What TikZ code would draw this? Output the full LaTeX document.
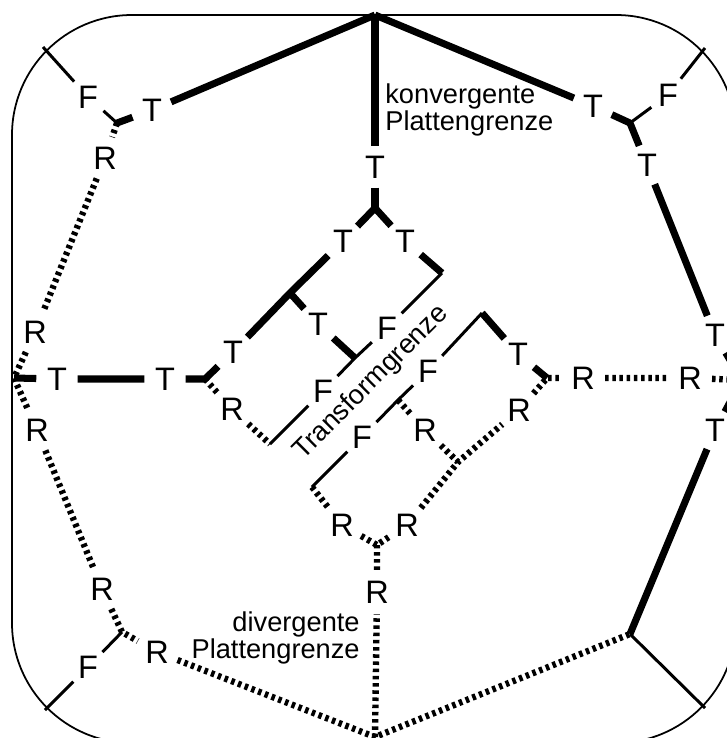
\documentclass[tikz,border=0pt]{standalone}
\usepackage{fontspec}
\setmainfont{Liberation Sans}
\begin{document}
\begin{tikzpicture}[x=0.02cm, y=-0.02cm,
   conv/.style={line width=4pt},
   trans/.style={line width=1.7pt},
   div/.style={line width=3.6pt, dash pattern=on 2pt off 2.1pt},
   txt/.style={rectangle, inner sep=0pt, font=\fontsize{15.5}{13.8}\selectfont},
   every node/.style={circle, inner sep=2.2pt, font=\fontsize{18.5}{18.5}\selectfont}]

\useasboundingbox (0,0) rectangle (727,738);
\clip (0,0) rectangle (727,738);
\draw[line width=1pt, rounded corners=2.4cm] (12,15) rectangle (736,743);

% Tripelpunkte und Knicke
\coordinate (top) at (375,15);
\coordinate (jnw) at (117,123);
\coordinate (jne) at (630,123);
\coordinate (jw) at (14,378);
\coordinate (je) at (742,380);
\coordinate (jsw) at (122,632);
\coordinate (jse) at (630,634);
\coordinate (js) at (375,737);
\coordinate (jm) at (377,545);
\coordinate (jc) at (375,208);
\coordinate (jl) at (205,379);
\coordinate (jr) at (547,378);
\coordinate (kb) at (290,293);
\coordinate (kt) at (355,358);
\coordinate (ka) at (442,273);
\coordinate (kc) at (270,444);
\coordinate (kd) at (482,313);
\coordinate (ke) at (398,400);
\coordinate (kf) at (312,487);
\coordinate (kg) at (458,462);
\coordinate (bnw) at (43,47);
\coordinate (bne) at (705,48);
\coordinate (bsw) at (45,710);
\coordinate (bse) at (705,708);

% Beschriftungen
\node (t1) at (152,110) {T};
\node (t2) at (375,167) {T};
\node (t3) at (593,106) {T};
\node (t4) at (647,165) {T};
\node (t5) at (715,335) {T};
\node (t6) at (715,430) {T};
\node (t7) at (57,379) {T};
\node (t8) at (165,379) {T};
\node (t9) at (233,352) {T};
\node (t10) at (343,241) {T};
\node (t11) at (405,241) {T};
\node (t12) at (318,324) {T};
\node (t13) at (518,354) {T};
\node (f1) at (88,97) {F};
\node (f2) at (668,95) {F};
\node (f3) at (88,667) {F};
\node (f4) at (387,328) {F};
\node (f5) at (323,391) {F};
\node (f6) at (428,371) {F};
\node (f7) at (362,437) {F};
\node (r1) at (105,158) {R};
\node (r2) at (35,332) {R};
\node (r3) at (37,430) {R};
\node (r4) at (102,589) {R};
\node (r5) at (157,652) {R};
\node (r6) at (377,592) {R};
\node (r7) at (342,525) {R};
\node (r8) at (407,525) {R};
\node (r9) at (232,409) {R};
\node (r10) at (425,430) {R};
\node (r11) at (519,410) {R};
\node (r12) at (583,378) {R};
\node (r13) at (690,378) {R};

\node[txt, anchor=west, align=left] (kon) at (385,110) {konvergente\\Plattengrenze};
\node[txt, anchor=east, align=right] (dvg) at (360,638) {divergente\\Plattengrenze};
\node[txt, rotate=45] (trf) at (371,383) {Transformgrenze};

% konvergent
\draw[conv] (top) -- (t1) -- (jnw);
\draw[conv] (top) -- (t2) -- (jc);
\draw[conv] (top) -- (t3) -- (jne);
\draw[conv] (jne) -- (t4) -- (t5) -- (je) -- (t6) -- (jse);
\draw[conv] (jw) -- (t7) -- (t8) -- (jl) -- (t9) -- (kb) -- (t10) -- (jc) -- (t11) -- (ka);
\draw[conv] (kb) -- (t12) -- (kt);
\draw[conv] (kd) -- (t13) -- (jr);

% Transform
\draw[trans] (ka) -- (f4) -- (kt) -- (f5) -- (kc);
\draw[trans] (kd) -- (f6) -- (ke) -- (f7) -- (kf);
\draw[trans] (jnw) -- (f1) -- (bnw);
\draw[trans] (jne) -- (f2) -- (bne);
\draw[trans] (jsw) -- (f3) -- (bsw);
\draw[trans] (jse) -- (bse);

% divergent
\draw[div] (jnw) -- (r1) -- (r2) -- (jw) -- (r3) -- (r4) -- (jsw) -- (r5) -- (js) -- (jse);
\draw[div] (js) -- (r6) -- (jm);
\draw[div] (kf) -- (r7) -- (jm) -- (r8) -- (kg) -- (r11) -- (jr) -- (r12) -- (r13) -- (je);
\draw[div] (jl) -- (r9) -- (kc);
\draw[div] (ke) -- (r10) -- (kg);

\end{tikzpicture}
\end{document}
